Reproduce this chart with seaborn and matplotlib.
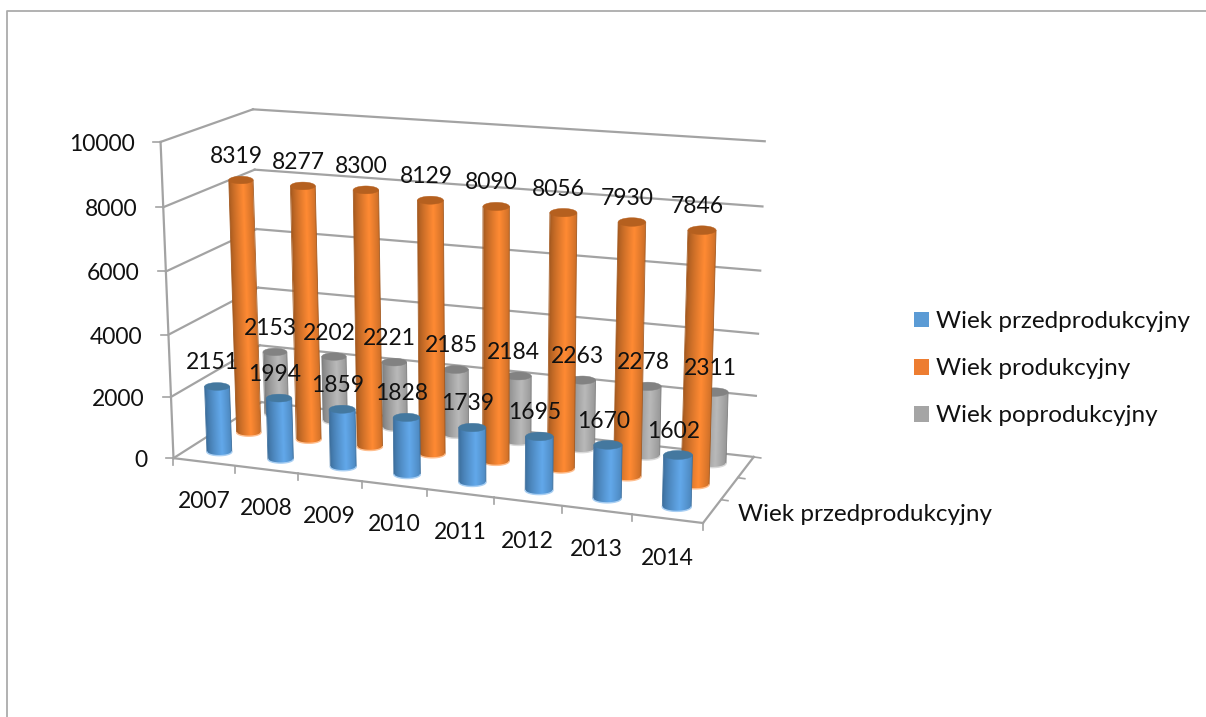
import numpy as np
import matplotlib
matplotlib.use("Agg")
import matplotlib.pyplot as plt
from matplotlib.colors import LinearSegmentedColormap
from matplotlib.patches import Patch, Polygon
from matplotlib.transforms import Affine2D
import seaborn as sns

years = ["2007", "2008", "2009", "2010", "2011", "2012", "2013", "2014"]
series_names = ["Wiek przedprodukcyjny", "Wiek produkcyjny", "Wiek poprodukcyjny"]
przed = [2151, 1994, 1859, 1828, 1739, 1695, 1670, 1602]
prod = [8319, 8277, 8300, 8129, 8090, 8056, 7930, 7846]
popr = [2153, 2202, 2221, 2185, 2184, 2263, 2278, 2311]
value_ticks = [0, 2000, 4000, 6000, 8000, 10000]

sns.set_theme(style="white")
plt.rcParams["font.family"] = ["Lato", "DejaVu Sans"]
palette = sns.color_palette(["#5b9bd5", "#ed7d31", "#a5a5a5"])
edge_cols = ["#3c6e9c", "#a4591f", "#7d7d7d"]
mid_cols = ["#62a8ea", "#ff8a33", "#b9b9b9"]
cap_cols = ["#44789f", "#b5601f", "#828282"]
GRID = "#a3a3a3"
TXT = "#111111"
FS_NUM = 16.5
FS_TXT = 17.5

fig = plt.figure(figsize=(12.06, 7.17), dpi=100)
ax = fig.add_axes([0, 0, 1, 1])
ax.set_xlim(0, 1206)
ax.set_ylim(717, 0)
ax.axis("off")
ax.set_autoscale_on(False)

# perspective camera of the 3-D box, fitted to its corners
# world: u = category position 0..8, v = depth 0..1, w = value/10000
frame = [
    ((0, 0, 0), (173, 458)), ((0, 0, 1), (162, 143)),
    ((8, 0, 0), (703.5, 523)),
    ((0, 1, 0), (263, 403)), ((0, 1, 1), (252, 109)),
    ((8, 1, 0), (753, 457)), ((8, 1, 1), (765, 141)),
    ((4, 0, 0), (427, 489)), ((0, 0, .4), (167, 334)),
    ((8, 1, .4), (758, 334)), ((0, 1, .4), (258, 287)),
]
A = []
for (u, v, w), (x, y) in frame:
    A.append([u, v, w, 1, 0, 0, 0, 0, -x*u, -x*v, -x*w, -x])
    A.append([0, 0, 0, 0, u, v, w, 1, -y*u, -y*v, -y*w, -y])
P = np.linalg.svd(np.array(A, float))[2][-1].reshape(3, 4)


def proj(u, v, value):
    h = P @ np.array([u, v, value / 10000.0, 1.0])
    return h[0] / h[2], h[1] / h[2]


def seg(p, q, lw=1.6, z=1):
    ax.plot([p[0], q[0]], [p[1], q[1]], color=GRID, lw=lw, zorder=z,
            solid_capstyle="projecting")


# outer border of the picture
ax.plot([6.5, 6.5, 1206], [717, 10.5, 10.5], color="#ababab", lw=1.3, zorder=1)

# walls and floor
for val in value_ticks:
    seg(proj(0, 0, val), proj(0, 1, val))
    seg(proj(0, 1, val), proj(8, 1, val))
    x, y = proj(0, 0, val)
    seg((x - 7.5, y), (x, y), lw=1.2)
    ax.text(x - 26, y + 2.5, str(val), ha="right", va="center", fontsize=FS_NUM, color=TXT)
seg(proj(0, 0, 0), proj(0, 0, 10000))
seg(proj(0, 0, 0), proj(8, 0, 0))
seg(proj(8, 0, 0), proj(8, 1, 0))

for i in range(len(years) + 1):
    x, y = proj(i, 0, 0)
    seg((x, y), (x, y + 7), lw=1.2)
for k in range(1, 4):
    x, y = proj(8, k / 3, 0)
    seg((x, y), (x + 7, y + 1), lw=1.2)

for i, yr in enumerate(years):
    x, y = proj(i + .5, 0, 0)
    ax.text(x, y + 39.5, yr, ha="center", va="center", fontsize=FS_NUM, color=TXT)
x, y = proj(8, 1 / 6, 0)
ax.text(x + 26, y + 3, series_names[0], ha="left", va="center", fontsize=FS_TXT, color=TXT)


def mix(c1, c2, f):
    return tuple(np.array(matplotlib.colors.to_rgb(c1)) * (1 - f)
                 + np.array(matplotlib.colors.to_rgb(c2)) * f)


cmaps = [LinearSegmentedColormap.from_list(f"c{k}", [edge_cols[k], mid_cols[k]])
         for k in range(3)]
shade_s = np.linspace(-1, 1, 128)
shade = np.clip(1 - np.abs(shade_s - 0.2) / 1.2, 0, 1) ** 0.8
shade = np.vstack([shade, shade])


def cylinder(u, v, value, k):
    bx, by = proj(u, v, 0)
    tx, ty = proj(u, v, value)
    a = (proj(u + .205, v, 0)[0] - proj(u - .205, v, 0)[0]) / 2
    b = 0.31 * a
    ts = np.linspace(np.pi, 0, 41)
    cs, sn = np.cos(ts), np.sin(ts)
    outline = np.vstack([np.c_[bx + a*cs, by + b*sn], [[tx + a, ty], [tx - a, ty]]])
    clip = Polygon(outline, closed=True, transform=ax.transData, fc="none", ec="none")
    ax.add_patch(clip)
    # unit square sheared onto the leaning cylinder side
    shear = Affine2D(np.array([[2*a, tx - bx, bx - a],
                               [0, ty - by, by],
                               [0, 0, 1]], float))
    im = ax.imshow(shade, extent=[0, 1, -.3, 1.3], origin="lower", aspect="auto",
                   cmap=cmaps[k], vmin=0, vmax=1, interpolation="bilinear",
                   transform=shear + ax.transData, zorder=3)
    im.set_clip_path(clip)
    ax.plot([bx - a, tx - a], [by, ty], color=edge_cols[k], lw=.6, zorder=3)
    ax.plot([bx + a, tx + a], [by, ty], color=edge_cols[k], lw=.6, zorder=3)
    ax.plot(bx + a*cs, by + b*sn, color=mix(mid_cols[k], "white", .45), lw=1, zorder=3)
    tt = np.linspace(0, 2*np.pi, 60)
    ax.add_patch(Polygon(np.c_[tx + a*np.cos(tt), ty + b*np.sin(tt)],
                         closed=True, fc=cap_cols[k], ec=cap_cols[k], lw=.3, zorder=3))
    return tx, ty


rows = [(2, popr, 5 / 6), (1, prod, .5), (0, przed, 1 / 6)]
for k, vals, v in rows:
    for i, val in enumerate(vals):
        tx, ty = cylinder(i + .5, v, val, k)
        ax.text(tx - 4.5, ty - 23.5, str(val), ha="center", va="center",
                fontsize=FS_NUM, color=TXT, zorder=6)

handles = [Patch(fc=c, ec="none") for c in palette]
leg = ax.legend(handles, series_names, loc="upper left",
                bbox_to_anchor=(914 / 1206, 1 - 311 / 717), frameon=False,
                fontsize=FS_TXT, handlelength=.62, handleheight=.62,
                handletextpad=.28, labelspacing=1.08, borderpad=0, borderaxespad=0,
                labelcolor=TXT)

fig.savefig("out.png", dpi=100)
